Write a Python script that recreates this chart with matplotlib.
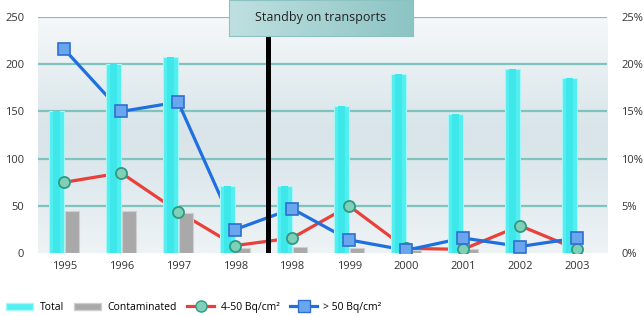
import numpy as np
import matplotlib
matplotlib.use("Agg")
import matplotlib.pyplot as plt
from matplotlib.patches import Patch
from matplotlib.lines import Line2D

plt.rcParams["font.family"] = ["Open Sans", "DejaVu Sans"]

# data
years = ["1995", "1996", "1997", "1998", "1998", "1999", "2000", "2001", "2002", "2003"]
total = [150, 200, 208, 71, 71, 156, 190, 147, 195, 185]
contaminated = [45, 45, 43, 5, 6, 5, 3, 4, 0, 0]
pct_4_50 = [7.5, 8.5, 4.4, 0.8, 1.6, 5.0, 0.5, 0.4, 2.9, 0.4]       # %
pct_over_50 = [21.6, 15.0, 16.0, 2.5, 4.7, 1.4, 0.3, 1.6, 0.7, 1.6]  # %
standby_label = "Standby on transports"

x = np.arange(len(years))

fig = plt.figure(figsize=(6.44, 3.16), dpi=100)
ax = fig.add_axes([0.059, 0.199, 0.884, 0.747])
ax2 = ax.twinx()

# background gradient of the plot area
cmap = matplotlib.colors.LinearSegmentedColormap.from_list(
    "bg", ["#f6f8f9", "#e6eef1", "#d8e4e9", "#e2ebef", "#eef3f5"])
grad = np.linspace(0, 1, 256).reshape(-1, 1)
ax.imshow(grad, extent=[-0.46, 9.53, 0, 250], aspect="auto", cmap=cmap,
          origin="upper", interpolation="bilinear", zorder=0)

for yv in [50, 100, 150, 200, 250]:
    ax.axhline(yv, color="#7fc3bf", lw=1.6, zorder=1)

# lines first (they pass behind the bars)
ax.plot(x, np.array(pct_4_50) * 10, color="#e8403a", lw=2.3, zorder=2)
ax.plot(x, np.array(pct_over_50) * 10, color="#1e6fe0", lw=2.3, zorder=2)

ax.bar(x - 0.135, total, width=0.26, color="#52eef0", edgecolor="#a8f6f6",
       linewidth=0.8, zorder=3)
ax.bar(x - 0.135, total, width=0.12, color="#3ee8ea", linewidth=0, zorder=3)
ax.bar(x + 0.135, contaminated, width=0.25, color="#a9a9a9", edgecolor="#cfcfcf",
       linewidth=0.8, zorder=3)

ax.plot(x, np.array(pct_4_50) * 10, ls="none", marker="o", ms=8,
        mfc="#7fd0b8", mec="#2e9a82", mew=1.3, zorder=4)
ax.plot(x, np.array(pct_over_50) * 10, ls="none", marker="s", ms=8,
        mfc="#6aa6ee", mec="#2f6fd0", mew=1.2, zorder=4)

# standby marker
ax.plot([3.58, 3.58], [0, 232], color="black", lw=3.6, zorder=5)

ax.set_xlim(-0.46, 9.53)
ax.set_ylim(0, 250)
ax.set_yticks([0, 50, 100, 150, 200, 250])
ax.set_xticks(x)
ax.set_xticklabels(years)
ax.tick_params(length=0, labelsize=8, colors="#333333", pad=6)
ax.tick_params(axis="y", pad=10)

ax2.set_ylim(0, 25)
ax2.set_yticks([0, 5, 10, 15, 20, 25])
ax2.set_yticklabels([f"{v}%" for v in [0, 5, 10, 15, 20, 25]])
ax2.tick_params(length=0, labelsize=8, colors="#333333", pad=10)

for a in (ax, ax2):
    for s in a.spines.values():
        s.set_visible(False)

# title box with a soft teal gradient
box = fig.add_axes([229 / 644, 1 - 36 / 316, 184 / 644, 36 / 316], zorder=10)
box_cmap = matplotlib.colors.LinearSegmentedColormap.from_list(
    "box", ["#bfe0e0", "#a6d2d2", "#8cc4c4"])
box.imshow(np.linspace(0, 1, 128).reshape(1, -1), extent=[0, 1, 0, 1],
           aspect="auto", cmap=box_cmap, interpolation="bilinear")
box.set_xlim(0, 1)
box.set_ylim(0, 1)
box.set_xticks([])
box.set_yticks([])
for s in box.spines.values():
    s.set_color("#8cc2c2")
    s.set_linewidth(0.8)
box.text(0.5, 0.5, standby_label, ha="center", va="center",
         fontsize=9, color="#222222", transform=box.transAxes)

handles = [
    Patch(facecolor="#52eef0", edgecolor="#a8f6f6"),
    Patch(facecolor="#a9a9a9", edgecolor="#cfcfcf"),
    Line2D([], [], color="#e8403a", lw=2.3, marker="o", ms=8,
           mfc="#7fd0b8", mec="#2e9a82"),
    Line2D([], [], color="#1e6fe0", lw=2.3, marker="s", ms=8,
           mfc="#6aa6ee", mec="#2f6fd0"),
]
labels = ["Total", "Contaminated", "4-50 Bq/cm²", "> 50 Bq/cm²"]
fig.legend(handles, labels, loc="lower left", bbox_to_anchor=(0.0, -0.01),
           ncol=4, frameon=False, fontsize=7.5, handlelength=2.6,
           handletextpad=0.6, columnspacing=1.0, borderaxespad=0.2)

fig.savefig("out.png", dpi=100)
